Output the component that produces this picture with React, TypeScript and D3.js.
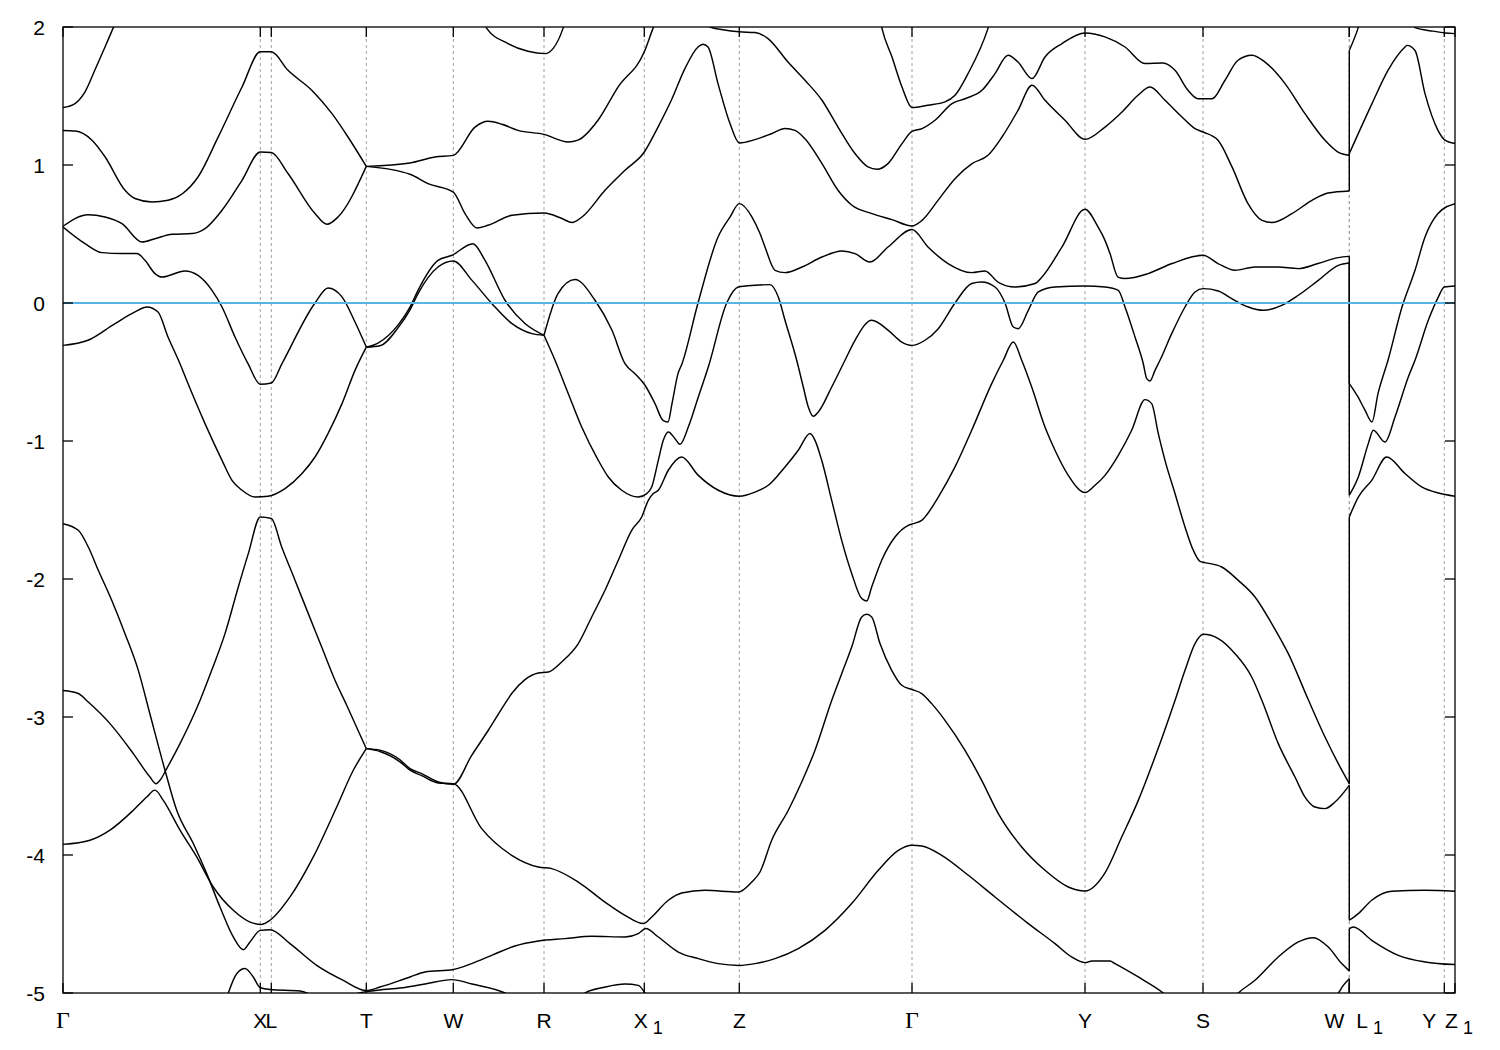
import React, { useRef, useEffect } from 'react';
import * as d3 from 'd3';

type Pt = [number, number];

// high-symmetry points of the k-path (path length units)
const kPointNames = ['Γ', 'X', 'L', 'T', 'W', 'R', 'X_1', 'Z', 'Γ', 'Y', 'S', 'W', 'L_1', 'Y', 'Z_1'];
const kPointPos = [0, 1.973, 2.083, 3.033, 3.903, 4.81, 5.813, 6.763, 8.49, 10.22, 11.4, 12.863, 12.863, 13.813, 13.92];
const energyTicks = [-5, -4, -3, -2, -1, 0, 1, 2];
const fermiLevel = 0;

// bands as [k, E(eV)]; a repeated k marks the W|L1 jump
const band01: Pt[] = [[0, 1.416], [0.12, 1.445], [0.22, 1.53], [0.32, 1.69], [0.42, 1.855], [0.5, 1.99], [0.54, 2.06]];
const band02: Pt[] = [[0, 1.25], [0.12, 1.246], [0.29, 1.18], [0.42, 1.06], [0.62, 0.817], [0.72, 0.757], [0.89, 0.732], [1.05, 0.744], [1.19, 0.79], [1.35, 0.913], [1.55, 1.2], [1.79, 1.565], [1.973, 1.82], [2.083, 1.82], [2.25, 1.686], [2.49, 1.54], [2.69, 1.372], [2.85, 1.203], [3.033, 0.99]];
const band03: Pt[] = [[0, 0.556], [0.25, 0.64], [0.42, 0.623], [0.59, 0.575], [0.79, 0.442], [0.92, 0.466], [1.09, 0.498], [1.29, 0.503], [1.42, 0.539], [1.59, 0.672], [1.79, 0.889], [1.973, 1.094], [2.083, 1.09], [2.25, 0.938], [2.52, 0.648], [2.64, 0.57], [2.75, 0.623], [3.033, 0.99]];
const band04: Pt[] = [[3.033, 0.99], [3.47, 1.015], [3.72, 1.058], [3.903, 1.07], [4.12, 1.275], [4.25, 1.317], [4.39, 1.295], [4.55, 1.251], [4.81, 1.222], [5.05, 1.167], [5.15, 1.18], [5.35, 1.324], [5.55, 1.565], [5.813, 1.82], [5.9, 1.99], [5.94, 2.06]];
const band05: Pt[] = [[3.033, 0.99], [3.47, 0.933], [3.65, 0.865], [3.903, 0.804], [4.02, 0.648], [4.14, 0.544], [4.25, 0.563], [4.49, 0.636], [4.81, 0.652], [4.99, 0.612], [5.09, 0.583], [5.19, 0.623], [5.42, 0.817], [5.62, 0.962], [5.813, 1.094], [5.95, 1.275], [6.09, 1.48], [6.22, 1.7], [6.35, 1.855], [6.4, 1.875], [6.45, 1.855], [6.55, 1.59], [6.67, 1.3], [6.763, 1.16], [6.92, 1.184], [7.09, 1.228], [7.22, 1.264], [7.32, 1.251], [7.42, 1.19], [7.59, 1.01], [7.75, 0.817], [7.89, 0.708], [8.09, 0.648], [8.29, 0.604], [8.49, 0.558], [8.59, 0.599], [8.75, 0.744], [8.92, 0.901], [9.09, 1.01], [9.25, 1.07], [9.39, 1.203], [9.55, 1.396], [9.69, 1.578], [9.82, 1.469], [10.02, 1.324], [10.22, 1.186], [10.42, 1.275], [10.59, 1.384], [10.75, 1.505], [10.87, 1.565], [11.02, 1.469], [11.19, 1.348], [11.32, 1.264], [11.4, 1.239], [11.55, 1.179], [11.69, 0.986], [11.85, 0.72], [11.99, 0.599], [12.09, 0.583], [12.29, 0.648], [12.49, 0.744], [12.65, 0.797], [12.863, 0.812],
  [12.863, 1.083], [13.09, 1.445], [13.25, 1.686], [13.42, 1.855], [13.44, 1.867], [13.52, 1.83], [13.62, 1.517], [13.75, 1.251], [13.813, 1.184], [13.92, 1.155]];
const band06: Pt[] = [[4.2, 2.06], [4.237, 1.99], [4.45, 1.88], [4.65, 1.824], [4.82, 1.807], [4.9, 1.843], [5.0, 1.99], [5.03, 2.06]];
const band07: Pt[] = [[6.44, 2.06], [6.47, 2.0], [6.6, 1.98], [6.763, 1.965], [6.92, 1.96], [7.05, 1.916], [7.25, 1.746], [7.42, 1.614], [7.59, 1.469], [7.75, 1.275], [7.92, 1.083], [8.05, 0.986], [8.14, 0.969], [8.25, 1.01], [8.39, 1.155], [8.49, 1.244], [8.59, 1.264], [8.72, 1.324], [8.89, 1.445], [9.02, 1.48], [9.19, 1.541], [9.32, 1.662], [9.45, 1.795], [9.55, 1.746], [9.69, 1.626], [9.82, 1.783], [9.99, 1.88], [10.22, 1.957], [10.42, 1.928], [10.62, 1.855], [10.82, 1.735], [11.0, 1.739], [11.12, 1.686], [11.25, 1.541], [11.35, 1.48], [11.49, 1.48], [11.62, 1.614], [11.75, 1.759], [11.89, 1.795], [12.02, 1.746], [12.22, 1.59], [12.42, 1.372], [12.62, 1.179], [12.75, 1.094], [12.863, 1.07],
  [12.863, 1.83], [12.95, 1.99], [12.98, 2.06]];
const band08: Pt[] = [[8.17, 2.06], [8.19, 1.99], [8.29, 1.783], [8.39, 1.565], [8.49, 1.416], [8.65, 1.433], [8.82, 1.457], [8.92, 1.505], [9.05, 1.662], [9.25, 1.99], [9.28, 2.06]];
const band09: Pt[] = [[13.49, 2.04], [13.52, 1.995], [13.7, 1.97], [13.82, 1.957], [13.92, 1.952]];
const band10: Pt[] = [[0, 0.55], [0.22, 0.43], [0.39, 0.365], [0.59, 0.358], [0.74, 0.358], [0.82, 0.309], [0.92, 0.213], [0.99, 0.188], [1.22, 0.232], [1.35, 0.2], [1.49, 0.092], [1.59, -0.029], [1.72, -0.246], [1.85, -0.439], [1.973, -0.589], [2.083, -0.58], [2.19, -0.439], [2.52, 0], [2.65, 0.109], [2.79, 0.044], [2.92, -0.138], [3.033, -0.319]];
const band11: Pt[] = [[0, -0.307], [0.25, -0.27], [0.52, -0.149], [0.72, -0.065], [0.84, -0.029], [0.95, -0.065], [1.05, -0.246], [1.17, -0.44], [1.25, -0.584], [1.42, -0.874], [1.59, -1.14], [1.69, -1.285], [1.79, -1.357], [1.92, -1.406], [2.05, -1.4], [2.22, -1.345], [2.39, -1.236], [2.52, -1.116], [2.65, -0.946], [2.79, -0.729], [2.92, -0.488], [3.033, -0.32]];
const band12: Pt[] = [[3.033, -0.32], [3.15, -0.29], [3.35, -0.16], [3.47, -0.03], [3.55, 0.092], [3.75, 0.309], [3.89, 0.346], [4.1, 0.43], [4.22, 0.309], [4.42, 0.02], [4.62, -0.149], [4.81, -0.234]];
const band13: Pt[] = [[3.033, -0.32], [3.17, -0.31], [3.35, -0.18], [3.47, -0.05], [3.55, 0.068], [3.75, 0.261], [3.903, 0.304], [4.09, 0.164], [4.29, -0.005], [4.49, -0.149], [4.69, -0.222], [4.81, -0.234]];
const band14: Pt[] = [[4.81, -0.234], [4.95, 0.068], [5.12, 0.17], [5.32, 0.02], [5.49, -0.198], [5.62, -0.44], [5.72, -0.512], [5.82, -0.596], [5.92, -0.729], [6.0, -0.85], [6.05, -0.862], [6.09, -0.729], [6.15, -0.512], [6.19, -0.44], [6.35, 0], [6.55, 0.478], [6.67, 0.623], [6.763, 0.72], [6.89, 0.623], [6.97, 0.503], [7.02, 0.406], [7.12, 0.237], [7.22, 0.22], [7.39, 0.261], [7.59, 0.333], [7.79, 0.377], [7.92, 0.358], [8.07, 0.297], [8.25, 0.406], [8.49, 0.532], [8.65, 0.406], [8.85, 0.286], [9.09, 0.22], [9.22, 0.232], [9.35, 0.152], [9.52, 0.116], [9.72, 0.141], [9.79, 0.188], [9.99, 0.406], [10.22, 0.679], [10.35, 0.551], [10.42, 0.454], [10.47, 0.358], [10.55, 0.188], [10.62, 0.177], [10.85, 0.213], [11.09, 0.286], [11.4, 0.346], [11.55, 0.286], [11.72, 0.237], [11.92, 0.261], [12.15, 0.261], [12.35, 0.249], [12.55, 0.286], [12.75, 0.329], [12.863, 0.338],
  [12.863, -0.584], [12.95, -0.681], [13.02, -0.777], [13.09, -0.862], [13.15, -0.657], [13.25, -0.415], [13.39, -0.029], [13.52, 0.237], [13.62, 0.478], [13.75, 0.648], [13.92, 0.72]];
const band15: Pt[] = [[4.81, -0.234], [4.92, -0.415], [5.053, -0.657], [5.187, -0.899], [5.353, -1.14], [5.453, -1.261], [5.587, -1.357], [5.753, -1.406], [5.837, -1.381], [5.887, -1.333], [5.953, -1.14], [6.003, -0.995], [6.053, -0.935], [6.12, -0.983], [6.17, -1.024], [6.253, -0.899], [6.353, -0.681], [6.453, -0.464], [6.637, 0], [6.753, 0.116], [6.92, 0.128], [7.07, 0.133], [7.153, 0.043], [7.22, -0.125], [7.337, -0.415], [7.403, -0.609], [7.453, -0.754], [7.503, -0.821], [7.553, -0.79], [7.687, -0.609], [7.82, -0.415], [7.92, -0.27], [8.087, -0.125], [8.253, -0.198], [8.387, -0.283], [8.49, -0.307], [8.62, -0.27], [8.753, -0.186], [8.92, 0], [9.087, 0.141], [9.187, 0.152], [9.32, 0.116], [9.42, 0], [9.503, -0.174], [9.553, -0.186], [9.653, -0.053], [9.753, 0.08], [9.92, 0.116], [10.22, 0.123], [10.42, 0.116], [10.553, 0.092], [10.62, -0.029], [10.72, -0.246], [10.803, -0.44], [10.837, -0.548], [10.87, -0.565], [10.92, -0.488], [10.97, -0.415], [11.087, -0.222], [11.22, -0.029], [11.32, 0.08], [11.403, 0.104], [11.553, 0.087], [11.687, 0.032], [11.853, -0.029], [12.003, -0.053], [12.187, -0.017], [12.353, 0.056], [12.553, 0.164], [12.753, 0.273], [12.863, 0.29],
  [12.863, -1.393], [12.953, -1.261], [13.053, -1.019], [13.103, -0.922], [13.22, -1.007], [13.32, -0.826], [13.453, -0.536], [13.52, -0.415], [13.653, -0.125], [13.753, 0.043], [13.813, 0.116], [13.92, 0.123]];
const band16: Pt[] = [[3.033, -3.229], [3.17, -3.24], [3.37, -3.31], [3.47, -3.374], [3.587, -3.41], [3.753, -3.471], [3.903, -3.488], [4.087, -3.278], [4.253, -3.096], [4.42, -2.903], [4.487, -2.83], [4.62, -2.729], [4.753, -2.681], [4.853, -2.674], [4.987, -2.601], [5.153, -2.468], [5.287, -2.275], [5.42, -2.082], [5.553, -1.864], [5.687, -1.647], [5.787, -1.551], [5.853, -1.43], [5.903, -1.381], [5.953, -1.357], [6.053, -1.212], [6.187, -1.116], [6.353, -1.249], [6.553, -1.357], [6.763, -1.4], [6.92, -1.37], [7.053, -1.321], [7.22, -1.188], [7.353, -1.067], [7.47, -0.946], [7.52, -0.995], [7.587, -1.14], [7.687, -1.43], [7.787, -1.72], [7.887, -1.96], [7.987, -2.142], [8.037, -2.159], [8.087, -2.058], [8.187, -1.864], [8.32, -1.696], [8.453, -1.611], [8.503, -1.599], [8.587, -1.575], [8.753, -1.406], [8.92, -1.188], [9.087, -0.922], [9.287, -0.584], [9.403, -0.415], [9.503, -0.283], [9.587, -0.415], [9.687, -0.609], [9.82, -0.899], [9.92, -1.067], [10.053, -1.249], [10.22, -1.374], [10.32, -1.321], [10.42, -1.249], [10.553, -1.104], [10.687, -0.922], [10.82, -0.7], [10.887, -0.729], [10.953, -0.946], [11.02, -1.14], [11.12, -1.381], [11.22, -1.623], [11.303, -1.792], [11.37, -1.872], [11.42, -1.881], [11.587, -1.913], [11.753, -2.01], [11.92, -2.13], [12.087, -2.323], [12.253, -2.541], [12.45, -2.87], [12.62, -3.145], [12.753, -3.338], [12.863, -3.483],
  [12.863, -1.55], [12.953, -1.406], [13.087, -1.285], [13.237, -1.116], [13.42, -1.236], [13.587, -1.333], [13.753, -1.377], [13.92, -1.4]];
const band17: Pt[] = [[0, -2.808], [0.153, -2.83], [0.25, -2.89], [0.47, -3.048], [0.703, -3.265], [0.87, -3.435], [0.93, -3.483], [0.97, -3.459], [1.037, -3.374], [1.17, -3.193], [1.37, -2.88], [1.487, -2.662], [1.62, -2.396], [1.753, -2.058], [1.853, -1.816], [1.973, -1.551], [2.083, -1.562], [2.187, -1.768], [2.32, -2.009], [2.453, -2.251], [2.587, -2.493], [2.72, -2.734], [2.837, -2.915], [3.033, -3.229]];
const band18: Pt[] = [[0, -3.923], [0.27, -3.893], [0.47, -3.82], [0.703, -3.676], [0.837, -3.58], [0.92, -3.53], [1.003, -3.604], [1.17, -3.82], [1.337, -4.014], [1.503, -4.232], [1.703, -4.401], [1.87, -4.486], [1.987, -4.503], [2.07, -4.473], [2.27, -4.304], [2.503, -4.014], [2.737, -3.652], [2.903, -3.386], [3.033, -3.229]];
const band19: Pt[] = [[0, -1.599], [0.153, -1.647], [0.253, -1.768], [0.353, -1.937], [0.487, -2.154], [0.62, -2.396], [0.753, -2.662], [0.87, -2.98], [1.02, -3.386], [1.137, -3.676], [1.303, -3.917], [1.437, -4.135], [1.57, -4.377], [1.703, -4.594], [1.803, -4.686], [1.87, -4.63], [1.973, -4.546], [2.07, -4.541], [2.27, -4.642], [2.537, -4.8], [2.803, -4.909], [3.033, -4.982], [3.17, -4.957], [3.47, -4.884], [3.62, -4.848], [3.903, -4.83], [4.087, -4.787], [4.287, -4.727], [4.52, -4.659], [4.753, -4.623], [5.02, -4.606], [5.287, -4.589], [5.62, -4.594], [5.753, -4.57], [5.827, -4.533], [5.953, -4.594], [6.153, -4.703], [6.353, -4.751], [6.553, -4.787], [6.763, -4.8], [6.92, -4.787], [7.12, -4.751], [7.353, -4.678], [7.62, -4.546], [7.887, -4.352], [8.153, -4.111], [8.353, -3.967], [8.49, -3.93], [8.587, -3.935], [8.787, -4.002], [9.053, -4.147], [9.32, -4.304], [9.653, -4.497], [9.92, -4.642], [10.087, -4.739], [10.22, -4.78], [10.29, -4.768], [10.47, -4.768], [10.52, -4.787], [10.753, -4.884], [11.003, -5.0], [11.1, -5.06]];
const band20: Pt[] = [[2.8, -5.03], [3.033, -4.99], [3.2, -4.975], [3.42, -4.96], [3.62, -4.935], [3.89, -4.903], [4.09, -4.935], [4.42, -5.0], [4.5, -5.03]];
const band21: Pt[] = [[1.63, -5.05], [1.653, -5.0], [1.737, -4.86], [1.82, -4.823], [1.903, -4.884], [1.97, -4.96], [2.07, -4.975], [2.37, -4.986], [2.437, -5.0], [2.5, -5.03]];
const band22: Pt[] = [[5.15, -5.04], [5.22, -5.0], [5.42, -4.957], [5.62, -4.935], [5.753, -4.945], [5.82, -5.0], [5.85, -5.03]];
const band23: Pt[] = [[3.033, -3.229], [3.17, -3.25], [3.37, -3.325], [3.47, -3.385], [3.587, -3.425], [3.753, -3.478], [3.903, -3.483], [4.187, -3.809], [4.487, -4.002], [4.753, -4.087], [4.887, -4.099], [5.153, -4.196], [5.42, -4.341], [5.62, -4.437], [5.803, -4.497], [5.887, -4.449], [6.053, -4.328], [6.187, -4.275], [6.42, -4.256], [6.753, -4.268], [6.887, -4.196], [6.97, -4.123], [7.087, -3.893], [7.253, -3.676], [7.387, -3.471], [7.52, -3.241], [7.687, -2.88], [7.787, -2.686], [7.887, -2.493], [7.987, -2.275], [8.037, -2.256], [8.087, -2.275], [8.17, -2.468], [8.287, -2.662], [8.387, -2.77], [8.49, -2.801], [8.587, -2.83], [8.687, -2.903], [8.82, -3.024], [9.02, -3.241], [9.187, -3.459], [9.353, -3.7], [9.587, -3.942], [9.82, -4.111], [10.053, -4.232], [10.22, -4.261], [10.42, -4.13], [10.587, -3.87], [10.753, -3.604], [10.92, -3.29], [11.12, -2.88], [11.22, -2.662], [11.32, -2.468], [11.403, -2.401], [11.553, -2.432], [11.72, -2.541], [11.887, -2.71], [12.0, -2.9], [12.153, -3.193], [12.32, -3.435], [12.42, -3.58], [12.52, -3.652], [12.62, -3.664], [12.72, -3.616], [12.863, -3.495],
  [12.863, -4.473], [12.953, -4.425], [13.087, -4.328], [13.287, -4.263], [13.62, -4.256], [13.92, -4.263]];
const band24: Pt[] = [[11.7, -5.04], [11.753, -5.0], [11.92, -4.908], [12.153, -4.739], [12.353, -4.63], [12.503, -4.599], [12.653, -4.667], [12.787, -4.787], [12.863, -4.84],
  [12.863, -4.534], [12.903, -4.522], [13.087, -4.618], [13.353, -4.727], [13.62, -4.775], [13.92, -4.794]];
const band25: Pt[] = [[12.72, -5.03], [12.753, -5.0], [12.803, -4.945], [12.863, -4.896], [12.863, -5.2]];

const bands = [band01, band02, band03, band04, band05, band06, band07, band08, band09, band10, band11, band12, band13,
  band14, band15, band16, band17, band18, band19, band20, band21, band22, band23, band24, band25];

// cut a band where k stops increasing (the W|L1 jump)
const splitBand = (pts: Pt[]) => {
  const segs: Pt[][] = [];
  const jumps: [Pt, Pt][] = [];
  let cur: Pt[] = [pts[0]];
  for (let i = 1; i < pts.length; i++) {
    if (pts[i][0] <= pts[i - 1][0]) {
      segs.push(cur);
      jumps.push([pts[i - 1], pts[i]]);
      cur = [pts[i]];
    } else {
      cur.push(pts[i]);
    }
  }
  segs.push(cur);
  return { segs, jumps };
};

const sansFont = '"Liberation Sans", Arial, Helvetica, sans-serif';
const serifFont = '"Liberation Serif", "Times New Roman", serif';

const BandChart: React.FC<{ width: number; height: number }> = ({ width, height }) => {
  const svgRef = useRef<SVGSVGElement | null>(null);

  useEffect(() => {
    if (!svgRef.current) return;
    const svg = d3.select(svgRef.current);
    svg.selectAll('*').remove();

    const margin = { top: 27, right: 45, bottom: 57, left: 63 };
    const x = d3.scaleLinear()
      .domain([0, d3.max(kPointPos) as number])
      .range([margin.left, width - margin.right]);
    const y = d3.scaleLinear()
      .domain([-5, 2])
      .range([height - margin.bottom, margin.top]);
    const [x0, x1] = x.range();
    const [yb, yt] = y.range();

    svg.append('rect').attr('width', width).attr('height', height).attr('fill', '#fff');

    svg.append('defs').append('clipPath').attr('id', 'plot-clip')
      .append('rect')
      .attr('x', x0).attr('y', yt)
      .attr('width', x1 - x0).attr('height', yb - yt);

    // dashed verticals at the high-symmetry points
    svg.append('g')
      .selectAll('line')
      .data(kPointPos.filter(k => k > 0 && k < (d3.max(kPointPos) as number)))
      .join('line')
      .attr('x1', d => x(d)).attr('x2', d => x(d))
      .attr('y1', yt).attr('y2', yb)
      .attr('stroke', '#a0a0a0')
      .attr('stroke-width', 1)
      .attr('stroke-dasharray', '3,3');

    const plot = svg.append('g').attr('clip-path', 'url(#plot-clip)');

    const line = d3.line<Pt>()
      .x(d => x(d[0]))
      .y(d => y(d[1]))
      .curve(d3.curveMonotoneX);

    bands.forEach(band => {
      const { segs, jumps } = splitBand(band);
      segs.forEach(seg => {
        plot.append('path')
          .datum(seg)
          .attr('fill', 'none')
          .attr('stroke', '#000')
          .attr('stroke-width', 1.45)
          .attr('stroke-linejoin', 'round')
          .attr('d', line);
      });
      jumps.forEach(([a, b]) => {
        plot.append('line')
          .attr('x1', x(a[0])).attr('x2', x(b[0]))
          .attr('y1', y(a[1])).attr('y2', y(b[1]))
          .attr('stroke', '#000')
          .attr('stroke-width', 1.45);
      });
    });

    // Fermi level
    plot.append('line')
      .attr('x1', x0).attr('x2', x1)
      .attr('y1', y(fermiLevel)).attr('y2', y(fermiLevel))
      .attr('stroke', '#56b4e9')
      .attr('stroke-width', 1.8);

    // frame
    svg.append('rect')
      .attr('x', x0).attr('y', yt)
      .attr('width', x1 - x0).attr('height', yb - yt)
      .attr('fill', 'none')
      .attr('stroke', '#000')
      .attr('stroke-width', 1.3);

    // energy ticks, both sides
    const yAxis = svg.append('g');
    energyTicks.forEach(e => {
      yAxis.append('line').attr('x1', x0).attr('x2', x0 + 10)
        .attr('y1', y(e)).attr('y2', y(e)).attr('stroke', '#000').attr('stroke-width', 1.3);
      yAxis.append('line').attr('x1', x1).attr('x2', x1 - 10)
        .attr('y1', y(e)).attr('y2', y(e)).attr('stroke', '#000').attr('stroke-width', 1.3);
      yAxis.append('text')
        .attr('x', x0 - 18).attr('y', y(e)).attr('dy', '0.36em')
        .attr('text-anchor', 'end')
        .attr('font-family', sansFont).attr('font-size', 21)
        .text(String(e));
    });

    // k ticks, top and bottom
    const xAxis = svg.append('g');
    kPointPos.forEach(k => {
      xAxis.append('line').attr('x1', x(k)).attr('x2', x(k))
        .attr('y1', yb).attr('y2', yb - 10).attr('stroke', '#000').attr('stroke-width', 1.3);
      xAxis.append('line').attr('x1', x(k)).attr('x2', x(k))
        .attr('y1', yt).attr('y2', yt + 10).attr('stroke', '#000').attr('stroke-width', 1.3);
    });

    // labels: the ones that share a spot are pushed apart
    const nudge: Record<number, { anchor: string; dx: number }> = {
      11: { anchor: 'end', dx: -5 },
      12: { anchor: 'start', dx: 3 },
      13: { anchor: 'middle', dx: -15 },
    };
    kPointNames.forEach((name, i) => {
      const [main, sub] = name.split('_');
      const n = nudge[i] || { anchor: 'middle', dx: 0 };
      const t = xAxis.append('text')
        .attr('x', x(kPointPos[i]) + n.dx + (sub ? 4 : 0))
        .attr('y', yb + 35)
        .attr('text-anchor', n.anchor)
        .attr('font-family', main === 'Γ' ? serifFont : sansFont)
        .attr('font-size', main === 'Γ' ? 24 : 21);
      t.append('tspan').text(main);
      if (sub) {
        t.append('tspan').attr('dx', 5).attr('dy', 6).attr('font-size', 18).text(sub);
      }
    });
  }, [width, height]);

  return <svg ref={svgRef} width={width} height={height} style={{ position: 'absolute', left: 0, top: 0 }} />;
};

export default function App() {
  useEffect(() => {
    document.body.style.margin = '0';
    document.body.style.overflow = 'hidden';
  }, []);
  return <BandChart width={1500} height={1050} />;
}
